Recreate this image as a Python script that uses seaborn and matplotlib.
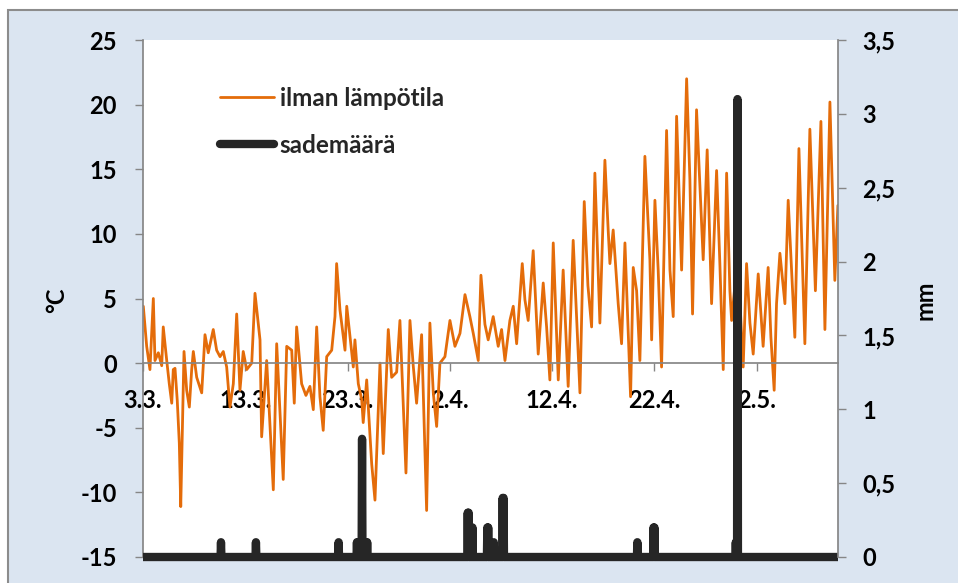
import numpy as np
import pandas as pd
import matplotlib
matplotlib.use("Agg")
import matplotlib.pyplot as plt
import seaborn as sns
from matplotlib.patches import Rectangle
from matplotlib.lines import Line2D

# ---------------- data ----------------
# time in days since 3.3. 00:00, air temperature in °C
temp_day = [0.03, 0.36, 0.68, 1.01, 1.17, 1.50, 1.83, 1.98, 2.32, 2.57, 2.81, 2.96, 3.13, 3.35, 3.55,
            3.69, 3.81, 4.01, 4.27, 4.53, 4.76, 4.92, 5.25, 5.74, 6.06, 6.38, 6.87, 7.20, 7.53, 7.85,
            8.18, 8.50, 8.83, 9.16, 9.48, 9.80, 10.14, 10.63, 10.95, 11.44, 11.60, 12.09, 12.74, 13.07,
            13.71, 14.05, 14.54, 14.79, 15.02, 15.51, 15.93, 16.32, 16.65, 16.98, 17.30, 17.62, 17.96,
            18.45, 18.77, 18.93, 19.26, 19.75, 19.92, 20.56, 20.72, 21.05, 21.38, 21.53, 21.87, 22.36,
            22.68, 23.17, 23.49, 23.98, 24.31, 24.80, 25.12, 25.71, 26.10, 26.42, 26.75, 27.24, 27.73,
            28.05, 28.38, 28.71, 29.03, 29.52, 30.01, 30.50, 30.99, 31.48, 31.96, 32.29, 32.78, 33.04,
            33.43, 33.75, 34.24, 34.73, 35.06, 35.39, 35.87, 36.20, 36.53, 37.08, 37.34, 37.66, 38.15,
            38.64, 39.13, 39.46, 39.78, 40.11, 40.60, 41.08, 41.57, 42.06, 42.72, 43.14, 43.50, 43.86,
            44.18, 44.67, 45.16, 45.48, 45.65, 45.97, 46.46, 46.79, 47.12, 47.67, 47.93, 48.26, 48.58,
            49.07, 49.56, 49.73, 50.05, 50.37, 50.70, 51.19, 51.52, 51.84, 52.17, 52.66, 53.15, 53.47,
            53.73, 54.12, 54.77, 55.16, 55.59, 56.08, 56.40, 56.73, 57.06, 57.38, 57.55, 57.87, 58.16,
            58.68, 59.01, 59.34, 59.66, 60.15, 60.63, 61.12, 61.39, 61.71, 61.94, 62.27, 62.76, 63.08,
            63.73, 64.13, 64.71, 65.20, 65.74, 66.28, 66.67, 67.16, 67.64, 67.94]
temp_c = [4.4, 1.3, -0.5, 5.0, 0.2, 0.8, -0.2, 2.8, 0.2, -1.6, -3.1, -0.5, -0.4, -2.9, -6.2,
          -11.1, -6.5, 0.9, -2.1, -3.4, -0.5, 0.9, -1.1, -2.3, 2.2, 0.8, 2.6, 1.0, 0.5, 0.9,
          -0.3, -3.4, -1.6, 3.8, -2.1, 0.9, -0.5, 0.0, 5.4, 1.8, -5.7, 0.2, -9.8, 1.5,
          -9.0, 1.3, 1.0, -3.1, 2.8, -1.6, -2.5, -1.8, -3.6, 2.8, -2.6, -5.2, 0.5,
          1.0, 3.6, 7.7, 4.1, 1.0, 4.4, -0.3, 1.8, -1.6, -2.8, -4.6, -1.3, -7.8,
          -10.6, 0.0, -7.0, 2.6, -1.1, -0.7, 3.3, -8.5, 3.3, -0.2, -3.1, 2.2, -11.4,
          3.1, -2.3, -4.9, 0.0, 0.5, 3.3, 1.3, 2.3, 5.3, 3.6, 2.3, 0.2, 6.8,
          3.0, 1.8, 3.6, 1.3, 2.6, 0.2, 3.3, 4.4, 1.5, 7.7, 4.9, 3.3, 8.7,
          0.7, 6.2, 2.8, -1.3, 9.3, -1.3, 7.2, -1.8, 9.5, -2.3, 12.5, 6.0, 2.8,
          14.7, 3.1, 15.7, 10.3, 7.7, 10.3, 4.6, 1.5, 9.3, -2.6, 7.4, 5.6, 0.2,
          16.0, 8.0, 1.8, 12.6, 7.2, -0.3, 18.0, 7.2, 3.6, 19.1, 7.2, 22.0, 14.2,
          3.8, 19.6, 8.0, 16.5, 4.6, 14.9, 7.7, -0.5, 14.7, 5.6, 3.3, 6.0, 8.0,
          -0.3, 7.7, 3.1, 0.7, 6.9, 1.3, 7.4, 2.0, -2.1, 4.6, 8.5, 4.6, 12.6,
          2.0, 16.6, 1.5, 18.1, 5.6, 18.7, 2.6, 20.2, 6.4, 12.2]

# precipitation (mm per hour) – only the hours with rain, all other hours are 0
rain_day = [7.62, 11.05, 19.11, 20.92, 21.04, 21.17, 21.29, 21.41, 21.54, 21.67, 21.79, 21.92,
            31.75, 31.85, 32.20, 33.65, 33.75, 34.30, 35.15, 35.25, 48.34, 49.90, 50.00,
            57.95, 58.11]
rain_mm = [0.1, 0.1, 0.1, 0.1, 0.1, 0.1, 0.1, 0.8, 0.1, 0.1, 0.1, 0.1,
           0.3, 0.3, 0.2, 0.2, 0.2, 0.1, 0.4, 0.4, 0.1, 0.2, 0.2,
           0.1, 3.1]
n_days = 67.95

x_tick_days = [0, 10, 20, 30, 40, 50, 60]
x_tick_labels = ["3.3.", "13.3.", "23.3.", "2.4.", "12.4.", "22.4.", "2.5."]
t_ticks = [-15, -10, -5, 0, 5, 10, 15, 20, 25]
mm_ticks = [0, 0.5, 1, 1.5, 2, 2.5, 3, 3.5]
mm_tick_labels = ["0", "0,5", "1", "1,5", "2", "2,5", "3", "3,5"]

label_temp = "ilman lämpötila"
label_rain = "sademäärä"

# ---------------- tables ----------------
df_t = pd.DataFrame({"day": temp_day, "temp": temp_c})
hours = np.arange(0, int(round(n_days * 24)) + 1)
rain_hourly = np.zeros(len(hours))
for d, v in zip(rain_day, rain_mm):
    rain_hourly[int(round(d * 24))] = v
df_r = pd.DataFrame({"day": hours / 24.0, "mm": rain_hourly})

# ---------------- style ----------------
sns.set_theme(style="ticks")
plt.rcParams["font.family"] = ["Lato", "DejaVu Sans"]
plt.rcParams["font.weight"] = "bold"

W, H = 958, 583
fig = plt.figure(figsize=(W / 100, H / 100), dpi=100)
fig.patch.set_facecolor("white")
fig.patches.append(Rectangle((8 / W, -0.1), 1.2, (H - 10) / H + 0.1, transform=fig.transFigure,
                             facecolor="#dbe5f1", edgecolor="#8c8c8c", lw=1.5, zorder=-10))

ax = fig.add_axes([143 / W, 1 - 557 / H, 695 / W, 517 / H])
ax.set_facecolor("white")
ax2 = ax.twinx()

orange = "#e46c0a"
dark = "#262626"
grey = "#868686"
fs = 17

sns.lineplot(data=df_t, x="day", y="temp", ax=ax, color=orange, lw=2.0,
             estimator=None, sort=False, legend=False)
sns.lineplot(data=df_r, x="day", y="mm", ax=ax2, color=dark, lw=6,
             estimator=None, sort=False, legend=False)
rain_line = ax2.get_lines()[0]
rain_line.set_solid_capstyle("round")
rain_line.set_solid_joinstyle("round")
rain_line.set_clip_path(Rectangle((0, -0.05), 1, 1.1, transform=ax2.transAxes))

ax.set_xlim(0, n_days)
ax.set_ylim(-15, 25)
ax2.set_ylim(0, 3.5)

ax.set_yticks(t_ticks)
ax.set_yticklabels([str(t) for t in t_ticks])
ax2.set_yticks(mm_ticks)
ax2.set_yticklabels(mm_tick_labels)
ax.set_xticks(x_tick_days)
ax.set_xticklabels(x_tick_labels)

for s in ["top", "right"]:
    ax.spines[s].set_visible(False)
ax.spines["left"].set_color(grey)
ax.spines["bottom"].set_color(grey)
ax.spines["bottom"].set_position(("data", 0))
for s in ["top", "bottom", "left"]:
    ax2.spines[s].set_visible(False)
ax2.spines["right"].set_color(grey)

ax.tick_params(axis="y", left=True, direction="out", length=5.8, width=1, color=grey,
               pad=13, labelsize=fs, labelcolor="black")
ax.tick_params(axis="x", bottom=True, direction="out", length=5.8, width=1, color=grey,
               pad=13, labelsize=fs, labelcolor="black")
ax2.tick_params(axis="y", right=True, direction="out", length=5.8, width=1, color=grey,
                pad=11.5, labelsize=fs, labelcolor="black")
ax.set_xlabel("")
ax.set_ylabel("")
ax2.set_ylabel("")

fig.text(57 / W, 1 - 300 / H, "°C", rotation=90, ha="center", va="center", fontsize=fs,
         fontweight="bold", color="black")
fig.text(925 / W, 1 - 300 / H, "mm", rotation=90, ha="center", va="center", fontsize=fs,
         fontweight="bold", color="black")

h1 = Line2D([], [], color=orange, lw=2.0)
h2 = Line2D([], [], color=dark, lw=6, solid_capstyle="round")
leg = ax2.legend([h1, h2], [label_temp, label_rain], loc="upper left",
                 bbox_to_anchor=(0.111, 0.91), frameon=False, fontsize=17.5,
                 handlelength=2.2, handletextpad=0.25, labelspacing=1.0,
                 borderaxespad=0, borderpad=0)

fig.savefig("out.png", dpi=100, facecolor=fig.get_facecolor())
